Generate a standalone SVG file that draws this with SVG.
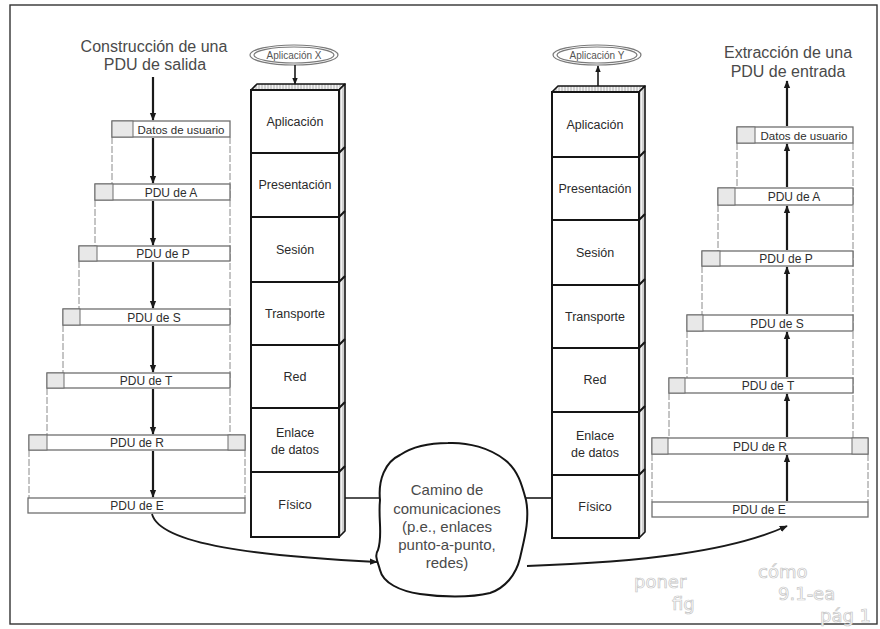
<svg xmlns="http://www.w3.org/2000/svg" width="880" height="629" viewBox="0 0 880 629">
  <defs>
    <marker id="ah" viewBox="0 0 10 10" refX="9" refY="5" markerWidth="8" markerHeight="8" markerUnits="userSpaceOnUse" orient="auto">
      <path d="M0,1 L10,5 L0,9 Z" fill="#1a1a1a"/>
    </marker>
    <marker id="ahs" viewBox="0 0 10 10" refX="9" refY="5" markerWidth="7" markerHeight="7" markerUnits="userSpaceOnUse" orient="auto">
      <path d="M0,1 L10,5 L0,9 Z" fill="#1a1a1a"/>
    </marker>
    <pattern id="hatch" width="3" height="3" patternUnits="userSpaceOnUse">
      <rect width="3" height="3" fill="#f2f2f2"/>
      <line x1="1" y1="0" x2="1" y2="3" stroke="#9a9a9a" stroke-width="0.8"/>
    </pattern>
    <style>
      .title { font-family: "Liberation Sans", Arial, sans-serif; font-size: 16px; fill: #4a4a4a; text-anchor: middle; }
      .pdu { fill: #ffffff; stroke: #6f6f6f; stroke-width: 1.3; }
      .hdr { fill: #e8e8e8; stroke: #6f6f6f; stroke-width: 1; }
      .plab { font-family: "Liberation Sans", Arial, sans-serif; font-size: 12px; fill: #2e2e2e; text-anchor: middle; }
      .side { fill: none; stroke: #8a8a8a; stroke-width: 1; stroke-dasharray: 7 2; }
      .flow { fill: none; stroke: #1a1a1a; stroke-width: 2.2; marker-end: url(#ah); }
      .face { fill: #ffffff; stroke: #151515; stroke-width: 2; }
      .depth { fill: url(#hatch); stroke: #151515; stroke-width: 1.6; stroke-linejoin: round; }
      .sep { fill: none; stroke: #151515; stroke-width: 2; }
      .llab { font-family: "Liberation Sans", Arial, sans-serif; font-size: 12.5px; fill: #2a2a2a; text-anchor: middle; }
      .app { fill: #ffffff; stroke: #7a7a7a; stroke-width: 1.2; }
      .applab { font-family: "Liberation Sans", Arial, sans-serif; font-size: 10px; fill: #555; text-anchor: middle; }
      .link { fill: none; stroke: #1a1a1a; stroke-width: 1.6; }
      .cloudlab { font-family: "Liberation Sans", Arial, sans-serif; font-size: 15px; fill: #4a4a4a; text-anchor: middle; }
      .note { font-family: "DejaVu Sans", sans-serif; font-size: 18px; fill: #ffffff; stroke: #c4c4c4; stroke-width: 0.7; }
    </style>
  </defs>

  <rect x="0" y="0" width="880" height="629" fill="#ffffff"/>
  <!-- page frame -->
  <rect x="10" y="5" width="867" height="619" fill="none" stroke="#333" stroke-width="1.4"/>

  <!-- left column: building an outgoing PDU -->
  <g id="titulo-salida">
    <text class="title" x="154" y="52">Construcción de una</text>
    <text class="title" x="155" y="70">PDU de salida</text>
  </g>

  <g id="pila-salida">
    <!-- dashed side walls between nested PDUs -->
    <path class="side" d="M112 137 V184 M95 200 V246 M79 261 V309 M63 325 V373 M47 388 V435 M29 450 V498 M230 137 V435 M245 450 V498"/>
  </g>
  <g id="s-datos">
    <rect class="pdu" x="112" y="121" width="118" height="16"/>
    <rect class="hdr" x="112" y="121" width="21" height="16"/>
    <text class="plab" x="181" y="133.5" style="font-size:11.5px">Datos de usuario</text>
  </g>
  <g id="s-pdu-a">
    <rect class="pdu" x="95" y="184" width="135" height="16"/>
    <rect class="hdr" x="95" y="184" width="18" height="16"/>
    <text class="plab" x="171" y="196.5">PDU de A</text>
  </g>
  <g id="s-pdu-p">
    <rect class="pdu" x="79" y="246" width="151" height="15"/>
    <rect class="hdr" x="79" y="246" width="18" height="15"/>
    <text class="plab" x="163" y="258">PDU de P</text>
  </g>
  <g id="s-pdu-s">
    <rect class="pdu" x="63" y="309" width="167" height="16"/>
    <rect class="hdr" x="63" y="309" width="17" height="16"/>
    <text class="plab" x="154" y="321.5">PDU de S</text>
  </g>
  <g id="s-pdu-t">
    <rect class="pdu" x="47" y="373" width="183" height="15"/>
    <rect class="hdr" x="47" y="373" width="17" height="15"/>
    <text class="plab" x="146" y="385">PDU de T</text>
  </g>
  <g id="s-pdu-r">
    <rect class="pdu" x="29" y="435" width="216" height="15"/>
    <rect class="hdr" x="29" y="435" width="18" height="15"/>
    <rect class="hdr" x="228" y="435" width="17" height="15"/>
    <text class="plab" x="137" y="447">PDU de R</text>
  </g>
  <g id="s-pdu-e">
    <rect class="pdu" x="28" y="498" width="217" height="15"/>
    <text class="plab" x="137" y="510">PDU de E</text>
  </g>

  <!-- right column: extracting an incoming PDU -->
  <g id="titulo-entrada">
    <text class="title" x="788" y="58">Extracción de una</text>
    <text class="title" x="788" y="77">PDU de entrada</text>
  </g>
  <g id="pila-entrada">
    <path class="side" d="M737 143 V188 M718 205 V251 M702 266 V315 M687 331 V378 M669 393 V438 M652 454 V502 M853 143 V438 M868 454 V502"/>
  </g>
  <g id="e-datos">
    <rect class="pdu" x="737" y="127" width="116" height="16"/>
    <rect class="hdr" x="737" y="127" width="18" height="16"/>
    <text class="plab" x="804" y="139.5" style="font-size:11.5px">Datos de usuario</text>
  </g>
  <g id="e-pdu-a">
    <rect class="pdu" x="718" y="188" width="135" height="17"/>
    <rect class="hdr" x="718" y="188" width="17" height="17"/>
    <text class="plab" x="794" y="201">PDU de A</text>
  </g>
  <g id="e-pdu-p">
    <rect class="pdu" x="702" y="251" width="151" height="15"/>
    <rect class="hdr" x="702" y="251" width="18" height="15"/>
    <text class="plab" x="786" y="263">PDU de P</text>
  </g>
  <g id="e-pdu-s">
    <rect class="pdu" x="687" y="315" width="166" height="16"/>
    <rect class="hdr" x="687" y="315" width="16" height="16"/>
    <text class="plab" x="777" y="327.5">PDU de S</text>
  </g>
  <g id="e-pdu-t">
    <rect class="pdu" x="669" y="378" width="184" height="15"/>
    <rect class="hdr" x="669" y="378" width="16" height="15"/>
    <text class="plab" x="768" y="390">PDU de T</text>
  </g>
  <g id="e-pdu-r">
    <rect class="pdu" x="652" y="438" width="216" height="16"/>
    <rect class="hdr" x="652" y="438" width="16" height="16"/>
    <rect class="hdr" x="852" y="438" width="16" height="16"/>
    <text class="plab" x="760" y="450.5">PDU de R</text>
  </g>
  <g id="e-pdu-e">
    <rect class="pdu" x="652" y="502" width="216" height="15"/>
    <text class="plab" x="759" y="514">PDU de E</text>
  </g>

  <!-- sending host stack -->
  <g id="aplicacion-x">
    <ellipse class="app" cx="294" cy="55" rx="44" ry="10"/>
    <ellipse class="app" cx="294" cy="55" rx="40" ry="8"/>
    <text class="applab" x="294" y="58.5">Aplicación X</text>
  </g>
  <g id="torre-x">
    <path class="depth" d="M251 90 L257 84 L345 84 L339 90 Z"/>
    <path class="depth" d="M339 90 L345 84 L345 531 L339 537 Z"/>
    <rect class="face" x="251" y="90" width="88" height="447"/>
    <path class="sep" d="M251 153 H339 L345 147 M251 217 H339 L345 211 M251 282 H339 L345 276 M251 345 H339 L345 339 M251 408 H339 L345 402 M251 472 H339 L345 466"/>
    <text class="llab" x="295" y="126">Aplicación</text>
    <text class="llab" x="295" y="189">Presentación</text>
    <text class="llab" x="295" y="254">Sesión</text>
    <text class="llab" x="295" y="318">Transporte</text>
    <text class="llab" x="295" y="381">Red</text>
    <text class="llab" x="295" y="437">Enlace</text>
    <text class="llab" x="295" y="454">de datos</text>
    <text class="llab" x="295" y="509">Físico</text>
  </g>

  <!-- receiving host stack -->
  <g id="aplicacion-y">
    <ellipse class="app" cx="597" cy="55" rx="44" ry="10"/>
    <ellipse class="app" cx="597" cy="55" rx="40" ry="8"/>
    <text class="applab" x="597" y="58.5">Aplicación Y</text>
  </g>
  <g id="torre-y">
    <path class="depth" d="M552 92 L558 86 L645 86 L639 92 Z"/>
    <path class="depth" d="M639 92 L645 86 L645 532 L639 538 Z"/>
    <rect class="face" x="552" y="92" width="87" height="446"/>
    <path class="sep" d="M552 157 H639 L645 151 M552 220 H639 L645 214 M552 285 H639 L645 279 M552 348 H639 L645 342 M552 412 H639 L645 406 M552 475 H639 L645 469"/>
    <text class="llab" x="595" y="129">Aplicación</text>
    <text class="llab" x="595" y="193">Presentación</text>
    <text class="llab" x="595" y="257">Sesión</text>
    <text class="llab" x="595" y="321">Transporte</text>
    <text class="llab" x="595" y="384">Red</text>
    <text class="llab" x="595" y="440">Enlace</text>
    <text class="llab" x="595" y="457">de datos</text>
    <text class="llab" x="595" y="511">Físico</text>
  </g>

  <!-- communication path -->
  <g id="camino">
    <path d="M380 500 C378 480 385 462 400 455 C412 447 430 443 448 443 C468 442 490 448 505 460 C518 470 522 485 526 500 C530 520 524 540 520 558 C516 575 505 588 490 593 C470 598 440 597 420 594 C400 591 383 583 380 570 C378 562 374 556 378 550 C383 535 378 520 380 500 Z" fill="#ffffff" stroke="#151515" stroke-width="2"/>
    <text class="cloudlab" x="447" y="495">Camino de</text>
    <text class="cloudlab" x="447" y="514">comunicaciones</text>
    <text class="cloudlab" x="447" y="532">(p.e., enlaces</text>
    <text class="cloudlab" x="447" y="550">punto-a-punto,</text>
    <text class="cloudlab" x="447" y="568">redes)</text>
  </g>

  <!-- connectors -->
  <g id="conectores">
    <!-- outgoing flow, top to bottom -->
    <path class="flow" d="M153 77 V120"/>
    <path class="flow" d="M153 138 V183"/>
    <path class="flow" d="M153 201 V245"/>
    <path class="flow" d="M153 262 V308"/>
    <path class="flow" d="M153 326 V372"/>
    <path class="flow" d="M153 389 V434"/>
    <path class="flow" d="M153 451 V497"/>
    <!-- incoming flow, bottom to top -->
    <path class="flow" d="M787 501 V455"/>
    <path class="flow" d="M787 437 V394"/>
    <path class="flow" d="M787 377 V332"/>
    <path class="flow" d="M787 314 V267"/>
    <path class="flow" d="M787 250 V206"/>
    <path class="flow" d="M787 187 V144"/>
    <path class="flow" d="M787 126 V81"/>
    <!-- applications to and from the stacks -->
    <path class="flow" d="M295 65 V84" style="stroke-width:1.6;marker-end:url(#ahs)"/>
    <path class="flow" d="M598 86 V66" style="stroke-width:1.6;marker-end:url(#ahs)"/>
    <!-- physical attachment -->
    <path class="link" d="M345 498 H380"/>
    <path class="link" d="M525 498 H552"/>
    <!-- frame into and out of the network -->
    <path class="flow" d="M152 514 C160 545 260 556 377 562" style="stroke-width:1.8"/>
    <path class="flow" d="M527 566 C640 562 730 552 787 526" style="stroke-width:1.8"/>
  </g>

  <!-- pencil note -->
  <g id="nota">
    <text class="note" x="634" y="588">poner</text>
    <text class="note" x="758" y="578">cómo</text>
    <text class="note" x="672" y="610">fig</text>
    <text class="note" x="778" y="600">9.1-ea</text>
    <text class="note" x="820" y="622">pág 1</text>
  </g>
</svg>
